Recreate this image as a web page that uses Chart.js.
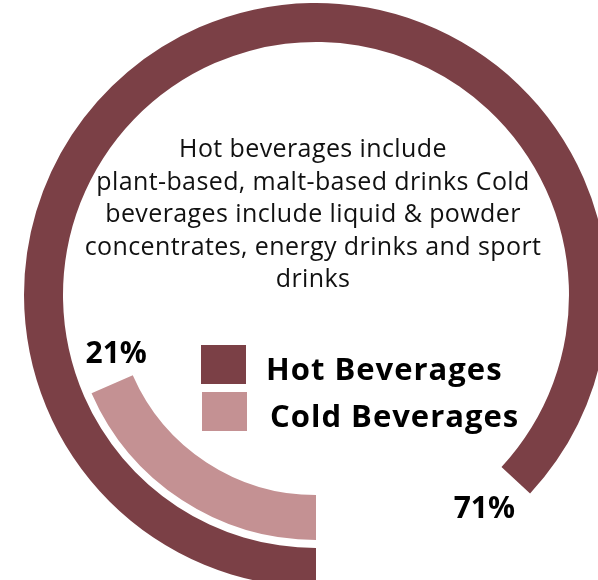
<!doctype html>
<html lang="en">
  <head>
    <meta charset="utf-8">
    <meta name="viewport" content="width=device-width, initial-scale=1">
    <title>Hot vs Cold Beverages</title>
    <style>
      html, body { margin: 0; padding: 0; background: #fff; overflow: hidden; }
      body { width: 598px; height: 580px; position: relative; font-family: "Open Sans", sans-serif; }
      #myChart { position: absolute; left: 0; top: 0; }
      .note {
        position: absolute; left: 33px; top: 131px; width: 560px;
        text-align: center; font-size: 25px; line-height: 32.5px; letter-spacing: 0.4px; color: #111;
      }
      .legendBox { position: absolute; width: 45px; height: 39px; }
      .legendText {
        position: absolute; font-size: 31px; font-weight: 700; line-height: 1;
        letter-spacing: 1px; color: #000; white-space: nowrap;
      }
    </style>
  </head>
  <body>
    <canvas id="myChart" width="632" height="590"></canvas>
    <div class="note">Hot beverages include<br>plant-based, malt-based drinks Cold<br>beverages include liquid &amp; powder<br>concentrates, energy drinks and sport<br>drinks</div>
    <div id="legend"></div>

    <script src="https://cdn.jsdelivr.net/npm/chart.js"></script>
    <script>
      // data
      const categories = ['Hot Beverages', 'Cold Beverages'];
      const shares = [71, 21];
      // each ring is a gauge against its own full-circle value (read from the arc lengths)
      const ringMax = [81.7, 113.9];
      const colors = ['#7B4046', '#C49193'];

      // legend (html)
      const legendTops = [345, 392];
      const legendLefts = [[201, 266], [202, 270]];
      const legend = document.getElementById('legend');
      categories.forEach((name, i) => {
        const box = document.createElement('div');
        box.className = 'legendBox';
        box.style.left = legendLefts[i][0] + 'px';
        box.style.top = legendTops[i] + 'px';
        box.style.background = colors[i];
        legend.appendChild(box);
        const txt = document.createElement('div');
        txt.className = 'legendText';
        txt.style.left = legendLefts[i][1] + 'px';
        txt.style.top = (legendTops[i] + 8) + 'px';
        txt.textContent = name;
        legend.appendChild(txt);
      });

      // percent labels just past the end of each ring
      const endLabels = {
        id: 'endLabels',
        afterDatasetsDraw(chart) {
          const ctx = chart.ctx;
          ctx.save();
          ctx.font = 'bold 30px "Open Sans"';
          ctx.fillStyle = '#000';
          ctx.textAlign = 'center';
          ctx.textBaseline = 'middle';
          [[0, 0, 9, 0], [2, 1, 7, -14]].forEach(([dsIndex, i, deg, dr]) => {
            const arc = chart.getDatasetMeta(dsIndex).data[0];
            const a = arc.endAngle + deg * Math.PI / 180;
            const r = (arc.innerRadius + arc.outerRadius) / 2 + dr;
            ctx.fillText(shares[i] + '%', arc.x + r * Math.cos(a), arc.y + r * Math.sin(a));
          });
          ctx.restore();
        }
      };

      const ring = (i, weight) => ({
        label: categories[i],
        data: [shares[i], ringMax[i] - shares[i]],
        backgroundColor: [colors[i], 'rgba(0,0,0,0)'],
        weight: weight
      });

      const data = {
        labels: ['share', 'rest'],
        datasets: [
          ring(0, 39),
          { label: 'gap', data: [1], backgroundColor: ['rgba(0,0,0,0)'], weight: 8 },
          ring(1, 45)
        ]
      };

      const config = {
        type: 'doughnut',
        data,
        options: {
          responsive: false,
          animation: false,
          events: [],
          rotation: 180,
          cutout: 200,
          borderWidth: 0,
          hoverOffset: 0,
          layout: { padding: 3 },
          plugins: {
            legend: { display: false },
            tooltip: { enabled: false }
          }
        },
        plugins: [endLabels]
      };

      const myChart = new Chart(document.getElementById('myChart'), config);
    </script>
  </body>
</html>
